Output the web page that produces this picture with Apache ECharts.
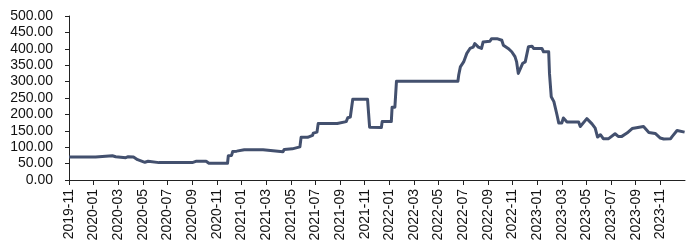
<!DOCTYPE html>
<html>
<head>
<meta charset="utf-8">
<script src="https://cdn.jsdelivr.net/npm/echarts@6/dist/echarts.min.js"></script>
<style>html,body{margin:0;padding:0;background:#fff}#c{width:700px;height:250px}</style>
</head>
<body>
<div id="c"></div>
<script>
// Data
var dates = [
"2019-11-01","2020-01-06","2020-01-08","2020-02-16","2020-02-24","2020-03-20","2020-03-26","2020-04-08","2020-04-18","2020-05-06",
"2020-05-14","2020-06-10","2020-09-01","2020-09-05","2020-09-10","2020-10-05","2020-10-12","2020-11-27","2020-11-29","2020-12-07",
"2020-12-10","2020-12-20","2021-01-08","2021-02-22","2021-02-26","2021-04-12","2021-04-15","2021-05-05","2021-05-08","2021-05-24",
"2021-05-27","2021-06-12","2021-06-14","2021-06-24","2021-06-26","2021-07-05","2021-07-08","2021-08-25","2021-08-28","2021-09-16",
"2021-09-20","2021-09-26","2021-10-02","2021-11-08","2021-11-13","2021-12-12","2021-12-14","2022-01-06","2022-01-08","2022-01-15",
"2022-01-19","2022-06-18","2022-06-20","2022-06-24","2022-07-02","2022-07-10","2022-07-18","2022-07-26","2022-07-30","2022-08-08",
"2022-08-16","2022-08-20","2022-09-06","2022-09-10","2022-09-23","2022-09-26","2022-10-05","2022-10-09","2022-10-21","2022-10-30",
"2022-11-07","2022-11-11","2022-11-15","2022-11-19","2022-11-26","2022-12-02","2022-12-10","2022-12-19","2022-12-23","2023-01-13",
"2023-01-17","2023-01-30","2023-02-01","2023-02-05","2023-02-11","2023-02-18","2023-02-22","2023-03-01","2023-03-05","2023-03-14",
"2023-04-12","2023-04-16","2023-05-02","2023-05-15","2023-05-23","2023-05-29","2023-06-05","2023-06-12","2023-06-25","2023-07-11",
"2023-07-19","2023-07-28","2023-08-10","2023-08-23","2023-09-20","2023-10-03","2023-10-19","2023-11-01","2023-11-09","2023-11-26",
"2023-11-30","2023-12-12","2023-12-31"
];
var prices = [
70,70,74,74,71,68,71,70,62,54,
57,53,53,50,57,57,51,51,74,75,
87,88,92,92,86,86,93,95,101,101,
130,130,135,136,143,146,172,172,178,178,
190,192,246,246,161,160,178,178,222,222,
301,301,320,345,360,386,401,405,416,405,
401,421,423,431,431,428,426,411,401,391,
376,360,325,330,356,360,406,408,401,401,
391,391,325,254,239,199,174,174,189,177,
177,163,187,171,158,131,138,126,126,141,
133,133,143,157,163,145,142,128,125,126,
133,151,146
];
var yTicks = [0, 50, 100, 150, 200, 250, 300, 350, 400, 450, 500];
var startYear = 2019, startMonth = 11, monthSpan = 50, monthStep = 2;

function daysIn(y, m) { return new Date(y, m, 0).getDate(); }
function toMonthOffset(s) {
  var p = s.split('-'), y = +p[0], m = +p[1], d = +p[2];
  return (y - startYear) * 12 + (m - startMonth) + (d - 1) / daysIn(y, m);
}
function offsetLabel(v) {
  var total = startYear * 12 + (startMonth - 1) + Math.round(v);
  var y = Math.floor(total / 12), m = total % 12 + 1;
  return y + '-' + (m < 10 ? '0' + m : m);
}
var seriesData = dates.map(function (d, i) { return [toMonthOffset(d), prices[i]]; });

var chart = echarts.init(document.getElementById('c'), null, { renderer: 'canvas' });
chart.setOption({
  animation: false,
  backgroundColor: '#ffffff',
  textStyle: { fontFamily: 'Liberation Sans, Arial, sans-serif' },
  grid: { left: 69, right: 15, top: 16, bottom: 70, containLabel: false },
  xAxis: {
    type: 'value',
    min: 0, max: monthSpan, interval: monthStep,
    axisLine: { show: true, lineStyle: { color: '#222', width: 1 } },
    axisTick: { show: true, inside: false, length: 5, lineStyle: { color: '#222' } },
    splitLine: { show: false },
    axisLabel: {
      rotate: 90, margin: 9, fontSize: 14, color: '#111',
      fontFamily: 'Liberation Sans, Arial, sans-serif',
      showMaxLabel: false,
      formatter: function (v) { return v >= monthSpan ? '' : offsetLabel(v); }
    }
  },
  yAxis: {
    type: 'value',
    min: yTicks[0], max: yTicks[yTicks.length - 1], interval: 50,
    axisLine: { show: true, lineStyle: { color: '#222', width: 1 } },
    axisTick: { show: true, inside: false, length: 4, lineStyle: { color: '#222' } },
    splitLine: { show: false },
    axisLabel: {
      margin: 16, fontSize: 14, color: '#111',
      fontFamily: 'Liberation Sans, Arial, sans-serif',
      formatter: function (v) { return v.toFixed(2); }
    }
  },
  series: [{
    type: 'line',
    data: seriesData,
    showSymbol: false,
    symbol: 'none',
    lineStyle: { color: '#43506E', width: 3, join: 'round' },
    itemStyle: { color: '#43506E' }
  }]
});
</script>
</body>
</html>
